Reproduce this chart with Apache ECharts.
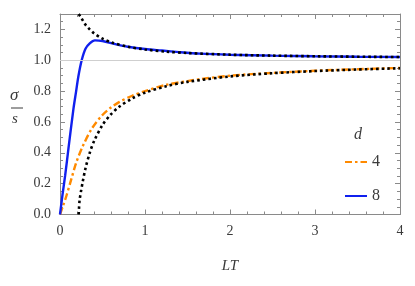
<!DOCTYPE html>
<html>
<head>
<meta charset="utf-8">
<script src="https://cdn.jsdelivr.net/npm/echarts@6/dist/echarts.min.js"></script>
<style>
html,body{margin:0;padding:0;background:#fff;}
#chart{width:415px;height:286px;}
</style>
</head>
<body>
<div id="chart"></div>
<script>
// x-axis ticks
const xTicks = [0, 1, 2, 3, 4];
const yTicks = [0.0, 0.2, 0.4, 0.6, 0.8, 1.0, 1.2];

// d = 4 (orange, dash-dot)
const lt4 = [0, 0.035, 0.075, 0.133, 0.19, 0.27, 0.37, 0.49, 0.6, 0.7, 0.85, 1.0, 1.25, 1.5, 1.65, 2.0, 2.5, 3.0, 3.5, 4.0];
const val4 = [0, 0.055, 0.12, 0.229, 0.335, 0.445, 0.553, 0.64, 0.694, 0.73, 0.77, 0.8, 0.841, 0.865, 0.878, 0.9, 0.918, 0.932, 0.942, 0.95];

// d = 8 (blue, solid)
const lt8 = [0, 0.03, 0.06, 0.1, 0.157, 0.19, 0.216, 0.255, 0.3, 0.35, 0.41, 0.5, 0.65, 0.8, 1.0, 1.2, 1.4, 1.65, 2.0, 2.5, 3.0, 3.5, 4.0];
const val8 = [0, 0.13, 0.25, 0.43, 0.68, 0.8, 0.895, 1.0, 1.075, 1.11, 1.129, 1.125, 1.105, 1.088, 1.073, 1.063, 1.053, 1.043, 1.036, 1.03, 1.026, 1.023, 1.021];

// upper asymptote (black dotted)
const ltUp = [0.22, 0.25, 0.3, 0.35, 0.4, 0.5, 0.6, 0.8, 1.0, 1.25, 1.5, 2.0, 2.5, 3.0, 3.5, 4.0];
const valUp = [1.30, 1.275, 1.23, 1.2, 1.175, 1.14, 1.117, 1.088, 1.07, 1.056, 1.047, 1.036, 1.03, 1.026, 1.023, 1.021];

// lower asymptote (black dotted)
const ltLo = [0.22, 0.23, 0.25, 0.27, 0.3, 0.35, 0.4, 0.5, 0.6, 0.7, 0.85, 1.0, 1.25, 1.5, 2.0, 2.5, 3.0, 3.5, 4.0];
const valLo = [0, 0.09, 0.16, 0.22, 0.3, 0.4, 0.475, 0.58, 0.65, 0.7, 0.753, 0.79, 0.832, 0.86, 0.895, 0.916, 0.93, 0.94, 0.948];

const zip = (a, b) => a.map((x, i) => [x, b[i]]);

const serif = '"Liberation Serif", "Times New Roman", Times, serif';
const axisColor = '#8a8a8a';
const labelColor = '#3a3a3a';

const chart = echarts.init(document.getElementById('chart'), null, {renderer: 'canvas'});

const baseX = {
  type: 'value', min: xTicks[0], max: xTicks[xTicks.length - 1], interval: 1,
  axisLine: {show: true, onZero: false, lineStyle: {color: axisColor, width: 1}},
  axisTick: {show: true, inside: true, length: 5, lineStyle: {color: axisColor}},
  minorTick: {show: true, splitNumber: 5, length: 3, lineStyle: {color: axisColor}},
  splitLine: {show: false}
};
const baseY = {
  type: 'value', min: 0, max: 1.3, interval: 0.2,
  axisLine: {show: true, onZero: false, lineStyle: {color: axisColor, width: 1}},
  axisTick: {show: true, inside: true, length: 5, lineStyle: {color: axisColor}},
  minorTick: {show: true, splitNumber: 4, length: 3, lineStyle: {color: axisColor}},
  splitLine: {show: false}
};

chart.setOption({
  animation: false,
  backgroundColor: '#fff',
  grid: {left: 60, right: 15, top: 14, bottom: 71.5, containLabel: false},
  xAxis: [
    Object.assign({}, baseX, {
      position: 'bottom',
      name: 'LT', nameLocation: 'middle', nameGap: 44,
      nameTextStyle: {fontFamily: serif, fontStyle: 'italic', fontSize: 15, color: labelColor},
      axisLabel: {show: true, margin: 10, fontFamily: serif, fontSize: 14, color: labelColor,
        formatter: v => String(Math.round(v))}
    }),
    Object.assign({}, baseX, {position: 'top', axisLabel: {show: false}})
  ],
  yAxis: [
    Object.assign({}, baseY, {
      position: 'left',
      axisLabel: {show: true, margin: 9, fontFamily: serif, fontSize: 14, color: labelColor,
        showMaxLabel: false, formatter: v => v.toFixed(1)}
    }),
    Object.assign({}, baseY, {position: 'right', axisLabel: {show: false}})
  ],
  legend: {
    data: ['4', '8'], orient: 'vertical', left: 339, top: 149,
    itemWidth: 22, itemHeight: 14, itemGap: 18,
    itemStyle: {opacity: 0},
    textStyle: {fontFamily: serif, fontSize: 16, color: labelColor},
    selectedMode: false
  },
  graphic: [
    {type: 'text', left: 354, top: 127, style: {text: 'd', font: 'italic 16px "Liberation Serif", serif', fill: labelColor}},
    {type: 'text', left: 10, top: 87, style: {text: 'σ', font: 'italic 17px "Liberation Serif", serif', fill: labelColor}},
    {type: 'line', shape: {x1: 11, y1: 108, x2: 23, y2: 108}, style: {stroke: labelColor, lineWidth: 1}},
    {type: 'text', left: 12, top: 112, style: {text: 's', font: 'italic 15px "Liberation Serif", serif', fill: labelColor}}
  ],
  series: [
    {
      name: '4', type: 'line', data: zip(lt4, val4), smooth: 0.3, symbol: 'none',
      lineStyle: {color: '#ff8a00', width: 2.4, type: [7, 3, 2.5, 3]}, itemStyle: {color: '#ff8a00'},
      markLine: {silent: true, symbol: 'none', label: {show: false},
        lineStyle: {color: '#cfcfcf', width: 1, type: 'solid'}, data: [{yAxis: 1}]},
      z: 2
    },
    {
      name: '8', type: 'line', data: zip(lt8, val8), smooth: 0.3, symbol: 'none',
      lineStyle: {color: '#1020ee', width: 2.4, type: 'solid'}, itemStyle: {color: '#1020ee'}, z: 3
    },
    {
      name: 'upper', type: 'line', data: zip(ltUp, valUp), smooth: 0.3, symbol: 'none',
      lineStyle: {color: '#000', width: 2.6, type: [2.6, 3], cap: 'butt'}, z: 4
    },
    {
      name: 'lower', type: 'line', data: zip(ltLo, valLo), smooth: 0.3, symbol: 'none',
      lineStyle: {color: '#000', width: 2.6, type: [2.6, 3], cap: 'butt'}, z: 4
    }
  ]
});
</script>
</body>
</html>
